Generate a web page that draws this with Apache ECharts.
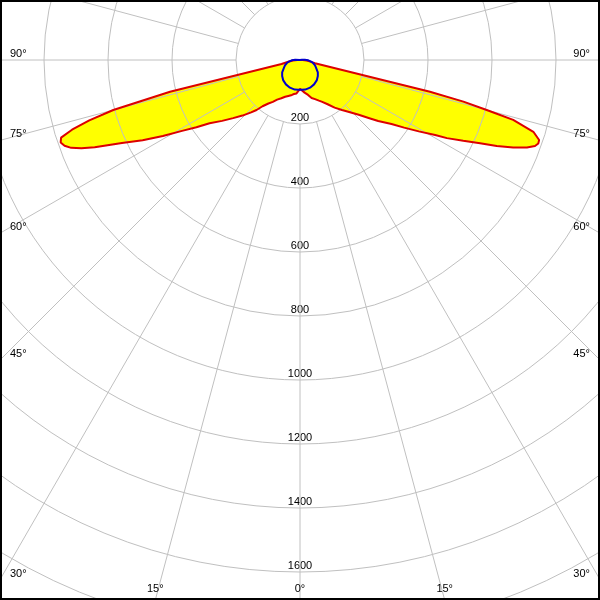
<!DOCTYPE html>
<html><head><meta charset="utf-8">
<script src="https://cdn.jsdelivr.net/npm/echarts@6/dist/echarts.min.js"></script>
<style>html,body{margin:0;padding:0;background:#fff}#c{width:600px;height:600px}</style>
</head><body><div id="c"></div>
<script>
// ---- tick labels ----
const radiusTicks = [200, 400, 600, 800, 1000, 1200, 1400, 1600];
const angleTicks = [90, 75, 60, 45, 30, 15, 0];
const spokeAngles = [-165, -150, -135, -120, -105, -90, -75, -60, -45, -30, -15, 0,
  15, 30, 45, 60, 75, 90, 105, 120, 135, 150, 165, 180];

// ---- C0 plane (left half, gamma in degrees, intensity in cd) ----
const redLeftAngles = [0, 3, 6, 10, 13, 18, 22, 26, 30, 33, 36, 39, 41, 43, 46, 49, 52, 55, 57, 59,
  61, 63, 65, 67, 68, 69, 70, 71, 72, 73, 74, 75, 76.3, 77.7, 81.7, 86, 90, 95, 180];
const redLeftValues = [90, 100, 105, 108, 112, 118, 124, 133, 143, 156, 168, 186, 207, 224, 250, 277, 309, 345, 386, 430,
  490, 552, 614, 697, 737, 766, 783, 791, 785, 745, 685, 604, 418, 59, 37, 22, 8, 0, 0];

// ---- C180 plane (right half) ----
const redRightAngles = [0, 3, 8, 13, 17, 21, 25, 28, 32, 36, 40, 43, 47, 50, 52, 55, 57, 59, 61, 62,
  63.7, 65.2, 66.4, 67.7, 68.9, 69.9, 70.7, 71.5, 72.9, 74.3, 75, 75.7, 76.3, 77.6, 82, 86, 90, 95, 180];
const redRightValues = [90, 92, 103, 112, 124, 131, 140, 148, 163, 184, 204, 221, 251, 283, 310, 349, 388, 433, 483, 520,
  569, 620, 671, 720, 760, 782, 789, 788, 763, 692, 604, 527, 418, 48, 30, 20, 8, 0, 0];

// ---- C90 / C270 plane ----
const blueAngles = [0, 3, 10, 20, 30, 40, 48, 55, 62, 70, 76, 82, 88, 92, 96, 100, 180];
const blueValues = [88, 93, 94, 92, 88, 82, 75, 68, 58, 50, 43, 35, 26, 15, 6, 0, 0];

function buildCurve(leftA, leftV, rightA, rightV) {
  const out = [];
  for (let i = leftA.length - 1; i >= 0; i--) out.push([leftV[i], leftA[i]]);
  for (let i = 1; i < rightA.length; i++) out.push([rightV[i], -rightA[i]]);
  return out;
}
const redData = buildCurve(redLeftAngles, redLeftValues, redRightAngles, redRightValues);
const blueData = buildCurve(blueAngles, blueValues, blueAngles, blueValues);

const GRID = '#c0c0c0';
const FONT = '11px "Liberation Sans", Arial, sans-serif';

const angleLabelData = [];
angleTicks.forEach(function (t) {
  angleLabelData.push([0, t]);
  if (t !== 0) angleLabelData.push([0, -t]);
});

const chart = echarts.init(document.getElementById('c'), null, {renderer: 'canvas'});
chart.setOption({
  animation: false,
  backgroundColor: '#ffffff',
  polar: {center: [300, 60], radius: 640},
  radiusAxis: {
    type: 'value', min: 0, max: 2000, interval: 200, z: 3,
    axisLine: {show: false}, axisTick: {show: false}, axisLabel: {show: false},
    splitLine: {show: true, lineStyle: {color: GRID, width: 1}}
  },
  angleAxis: {
    type: 'value', min: -180, max: 180, startAngle: 90, clockwise: true,
    axisLine: {show: false}, axisTick: {show: false}, axisLabel: {show: false},
    splitLine: {show: false}
  },
  graphic: [{
    type: 'rect', z: 100, silent: true,
    shape: {x: 1, y: 1, width: 598, height: 598},
    style: {fill: null, stroke: '#000', lineWidth: 2}
  }],
  series: [
    { // yellow fill
      type: 'line', coordinateSystem: 'polar', data: redData, z: 2,
      showSymbol: false, symbol: 'none', silent: true,
      lineStyle: {width: 0, opacity: 0},
      areaStyle: {color: '#ffff00', opacity: 1}
    },
    { // radius labels
      type: 'custom', coordinateSystem: 'polar', z: 2.5, silent: true,
      data: radiusTicks.map(function (r) { return [r, 0]; }),
      renderItem: function (params, api) {
        const p = api.coord([api.value(0), 0]);
        return {type: 'text', x: p[0], y: p[1] - 1,
          style: {text: String(api.value(0)), fill: '#000', font: FONT, align: 'center', verticalAlign: 'bottom'}};
      }
    },
    { // spokes
      type: 'custom', coordinateSystem: 'polar', z: 3, silent: true,
      data: spokeAngles.map(function (a) { return [200, a]; }),
      renderItem: function (params, api) {
        const a = api.value(1);
        const p1 = api.coord([200, a]);
        const p2 = api.coord([2000, a]);
        return {type: 'line', shape: {x1: p1[0], y1: p1[1], x2: p2[0], y2: p2[1]},
          style: {stroke: GRID, lineWidth: 1}};
      }
    },
    { // red outline
      type: 'line', coordinateSystem: 'polar', data: redData, z: 4,
      showSymbol: false, symbol: 'none', silent: true,
      lineStyle: {color: '#dd0000', width: 2}
    },
    { // blue outline
      type: 'line', coordinateSystem: 'polar', data: blueData, z: 5,
      showSymbol: false, symbol: 'none', silent: true,
      lineStyle: {color: '#0000cc', width: 2}
    },
    { // angle labels at the frame
      type: 'custom', coordinateSystem: 'polar', z: 6, silent: true,
      data: angleLabelData,
      renderItem: function (params, api) {
        const g = api.value(1);
        const c = api.coord([0, g]);
        const p = api.coord([2000, g]);
        const W = api.getWidth(), H = api.getHeight();
        const dx = p[0] - c[0], dy = p[1] - c[1];
        let best = Infinity, edge = '';
        if (dx < -1e-6) { const t = (0 - c[0]) / dx; if (t < best) { best = t; edge = 'L'; } }
        if (dx > 1e-6) { const t = (W - c[0]) / dx; if (t < best) { best = t; edge = 'R'; } }
        if (dy > 1e-6) { const t = (H - c[1]) / dy; if (t < best) { best = t; edge = 'B'; } }
        const hx = c[0] + dx * best, hy = c[1] + dy * best;
        const txt = Math.abs(g) + '°';
        let x, y, align;
        if (edge === 'L') { x = 10; y = hy - 6; align = 'left'; }
        else if (edge === 'R') { x = W - 10; y = hy - 6; align = 'right'; }
        else { x = hx; y = H - 11; align = 'center'; }
        return {type: 'text', x: x, y: y,
          style: {text: txt, fill: '#000', font: FONT, align: align, verticalAlign: 'middle'}};
      }
    }
  ]
});
</script>
</body></html>
